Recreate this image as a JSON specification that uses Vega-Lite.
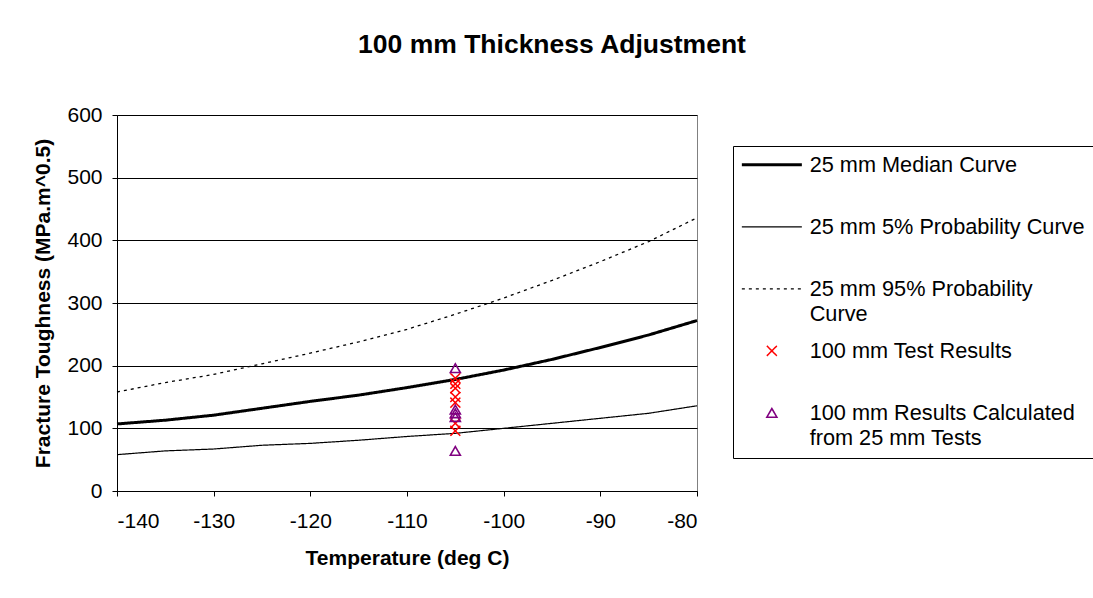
{
  "$schema": "https://vega.github.io/schema/vega-lite/v6.json",
  "width": 580,
  "height": 376,
  "autosize": "none",
  "padding": {"left": 117, "top": 115, "right": 396, "bottom": 107},
  "background": "white",
  "config": {
    "font": "Liberation Sans",
    "view": {"stroke": "#808080", "strokeWidth": 1}
  },
  "title": {
    "text": "100 mm Thickness Adjustment",
    "fontSize": 26.5,
    "fontWeight": "bold",
    "color": "black",
    "anchor": "middle",
    "dx": 145,
    "offset": 46
  },
  "data": {
    "values": [
      {"series": "25 mm Median Curve", "temp": -140, "k": 107},
      {"series": "25 mm Median Curve", "temp": -135, "k": 113},
      {"series": "25 mm Median Curve", "temp": -130, "k": 121},
      {"series": "25 mm Median Curve", "temp": -125, "k": 132},
      {"series": "25 mm Median Curve", "temp": -120, "k": 143},
      {"series": "25 mm Median Curve", "temp": -115, "k": 153},
      {"series": "25 mm Median Curve", "temp": -110, "k": 165},
      {"series": "25 mm Median Curve", "temp": -105, "k": 178},
      {"series": "25 mm Median Curve", "temp": -100, "k": 193},
      {"series": "25 mm Median Curve", "temp": -95, "k": 210},
      {"series": "25 mm Median Curve", "temp": -90, "k": 229},
      {"series": "25 mm Median Curve", "temp": -85, "k": 249},
      {"series": "25 mm Median Curve", "temp": -80, "k": 272},
      {"series": "25 mm 5% Probability Curve", "temp": -140, "k": 58},
      {"series": "25 mm 5% Probability Curve", "temp": -135, "k": 64},
      {"series": "25 mm 5% Probability Curve", "temp": -130, "k": 67},
      {"series": "25 mm 5% Probability Curve", "temp": -125, "k": 73},
      {"series": "25 mm 5% Probability Curve", "temp": -120, "k": 76},
      {"series": "25 mm 5% Probability Curve", "temp": -115, "k": 81},
      {"series": "25 mm 5% Probability Curve", "temp": -110, "k": 87},
      {"series": "25 mm 5% Probability Curve", "temp": -105, "k": 92},
      {"series": "25 mm 5% Probability Curve", "temp": -100, "k": 100},
      {"series": "25 mm 5% Probability Curve", "temp": -95, "k": 108},
      {"series": "25 mm 5% Probability Curve", "temp": -90, "k": 116},
      {"series": "25 mm 5% Probability Curve", "temp": -85, "k": 124},
      {"series": "25 mm 5% Probability Curve", "temp": -80, "k": 136},
      {"series": "25 mm 95% Probability Curve", "temp": -140, "k": 158},
      {"series": "25 mm 95% Probability Curve", "temp": -135, "k": 173},
      {"series": "25 mm 95% Probability Curve", "temp": -130, "k": 186},
      {"series": "25 mm 95% Probability Curve", "temp": -125, "k": 203},
      {"series": "25 mm 95% Probability Curve", "temp": -120, "k": 220},
      {"series": "25 mm 95% Probability Curve", "temp": -115, "k": 238},
      {"series": "25 mm 95% Probability Curve", "temp": -110, "k": 258},
      {"series": "25 mm 95% Probability Curve", "temp": -105, "k": 282},
      {"series": "25 mm 95% Probability Curve", "temp": -100, "k": 308},
      {"series": "25 mm 95% Probability Curve", "temp": -95, "k": 336},
      {"series": "25 mm 95% Probability Curve", "temp": -90, "k": 366},
      {"series": "25 mm 95% Probability Curve", "temp": -85, "k": 398},
      {"series": "25 mm 95% Probability Curve", "temp": -80, "k": 436},
      {"series": "100 mm Test Results", "temp": -105, "k": 180},
      {"series": "100 mm Test Results", "temp": -105, "k": 171},
      {"series": "100 mm Test Results", "temp": -105, "k": 164},
      {"series": "100 mm Test Results", "temp": -105, "k": 150},
      {"series": "100 mm Test Results", "temp": -105, "k": 141},
      {"series": "100 mm Test Results", "temp": -105, "k": 108},
      {"series": "100 mm Test Results", "temp": -105, "k": 96},
      {"series": "100 mm Results Calculated from 25 mm Tests", "temp": -105, "k": 196},
      {"series": "100 mm Results Calculated from 25 mm Tests", "temp": -105, "k": 130},
      {"series": "100 mm Results Calculated from 25 mm Tests", "temp": -105, "k": 124},
      {"series": "100 mm Results Calculated from 25 mm Tests", "temp": -105, "k": 118},
      {"series": "100 mm Results Calculated from 25 mm Tests", "temp": -105, "k": 64}
    ]
  },
  "encoding": {
    "x": {
      "field": "temp", "type": "quantitative",
      "scale": {"domain": [-140, -80], "nice": false, "zero": false},
      "axis": {
        "values": [-140, -130, -120, -110, -100, -90, -80],
        "labelExpr": "replace(datum.label, '−', '-')",
        "title": "Temperature (deg C)",
        "grid": false,
        "domainColor": "black", "tickColor": "black", "tickSize": 5,
        "labelFontSize": 21, "labelColor": "black", "labelPadding": 14,
        "titleFontSize": 21, "titleFontWeight": "bold", "titleColor": "black", "titlePadding": 16
      }
    },
    "y": {
      "field": "k", "type": "quantitative",
      "scale": {"domain": [0, 600], "nice": false},
      "axis": {
        "values": [0, 100, 200, 300, 400, 500, 600],
        "title": "Fracture Toughness (MPa.m^0.5)",
        "grid": true, "gridColor": "black", "gridOpacity": 1, "gridWidth": 1,
        "domainColor": "black", "tickColor": "black", "tickSize": 5,
        "labelFontSize": 21, "labelColor": "black", "labelPadding": 10,
        "titleFontSize": 21, "titleFontWeight": "bold", "titleColor": "black", "titlePadding": 13
      }
    },
    "color": {
      "field": "series", "type": "nominal",
      "scale": {
        "domain": ["25 mm Median Curve", "25 mm 5% Probability Curve", "25 mm 95% Probability Curve", "100 mm Test Results", "100 mm Results Calculated from 25 mm Tests"],
        "range": ["black", "black", "black", "#ff0000", "#800080"]
      },
      "legend": {
        "title": null,
        "orient": "none",
        "legendX": 616,
        "legendY": 31,
        "strokeColor": "black",
        "fillColor": "white",
        "padding": 8,
        "labelFontSize": 21.7,
        "labelColor": "black",
        "labelLimit": 400,
        "labelOffset": 27,
        "symbolOffset": 20,
        "rowPadding": 14,
        "labelExpr": "datum.label == '25 mm 95% Probability Curve' ? ['25 mm 95% Probability', 'Curve'] : datum.label == '100 mm Results Calculated from 25 mm Tests' ? ['100 mm Results Calculated', 'from 25 mm Tests'] : [datum.label, '']",
        "encode": {"labels": {"update": {"lineHeight": {"value": 25}}}}
      }
    },
    "strokeDash": {
      "field": "series", "type": "nominal",
      "scale": {
        "domain": ["25 mm Median Curve", "25 mm 5% Probability Curve", "25 mm 95% Probability Curve", "100 mm Test Results", "100 mm Results Calculated from 25 mm Tests"],
        "range": [[1, 0], [1, 0], [3, 4], [1, 0], [1, 0]]
      }
    },
    "strokeWidth": {
      "field": "series", "type": "nominal",
      "scale": {
        "type": "ordinal",
        "domain": ["25 mm Median Curve", "25 mm 5% Probability Curve", "25 mm 95% Probability Curve", "100 mm Test Results", "100 mm Results Calculated from 25 mm Tests"],
        "range": [3, 1.2, 1.3, 1.5, 1.6]
      }
    }
  },
  "layer": [
    {
      "transform": [{"filter": "indexof(datum.series, '25 mm') == 0"}],
      "mark": {"type": "line"}
    },
    {
      "transform": [{"filter": "indexof(datum.series, '100 mm') == 0"}],
      "mark": {"type": "point", "filled": false, "opacity": 1},
      "encoding": {
        "shape": {
          "field": "series", "type": "nominal",
          "scale": {
            "domain": ["25 mm Median Curve", "25 mm 5% Probability Curve", "25 mm 95% Probability Curve", "100 mm Test Results", "100 mm Results Calculated from 25 mm Tests"],
            "range": ["M-6,0H6", "M-6,0H6", "M-6,0H6", "M-1,-1L1,1M-1,1L1,-1", "triangle-up"]
          }
        },
        "size": {
          "field": "series", "type": "nominal",
          "scale": {
            "type": "ordinal",
            "domain": ["25 mm Median Curve", "25 mm 5% Probability Curve", "25 mm 95% Probability Curve", "100 mm Test Results", "100 mm Results Calculated from 25 mm Tests"],
            "range": [100, 100, 100, 100, 100]
          }
        }
      }
    }
  ]
}
